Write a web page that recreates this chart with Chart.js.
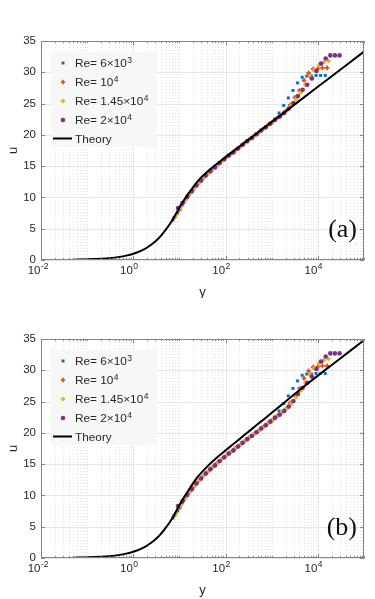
<!DOCTYPE html>
<html>
<head>
<meta charset="utf-8">
<script src="https://cdn.jsdelivr.net/npm/chart.js@4.4.1/dist/chart.umd.min.js"></script>
<style>
  html, body { margin: 0; padding: 0; background: #fff; }
  canvas { display: block; }
</style>
</head>
<body>
<canvas id="chartA" width="375" height="298"></canvas>
<canvas id="chartB" width="375" height="301"></canvas>
<script>
// wall distance y+ and velocity u+
const yBlue = [7.24, 9.12, 11.5, 14.5, 18.2, 22.9, 28.8, 36.3, 45.7, 57.5, 72.4, 91.2, 115, 145, 182, 229, 288, 363, 457, 575, 724, 912, 1148, 1445, 1820, 2291, 2884, 3631, 4571, 5754, 7244, 9120, 11480, 14450];
const uBlue = [6.4, 7.5, 8.8, 9.9, 10.9, 11.8, 12.6, 13.4, 14.1, 14.8, 15.4, 16.0, 16.6, 17.2, 17.8, 18.4, 18.9, 19.5, 20.1, 20.6, 21.2, 21.7, 22.5, 23.5, 24.7, 25.9, 27.1, 28.3, 29.2, 29.4, 29.4, 29.5, 29.5, 29.5];

const yOrange = [7.94, 10, 12.6, 15.8, 20, 25.1, 31.6, 39.8, 50.1, 63.1, 79.4, 100, 126, 158, 200, 251, 316, 398, 501, 631, 794, 1000, 1259, 1585, 1995, 2512, 3162, 3981, 5012, 6310, 7943, 10000, 12590, 15850];
const uOrange = [6.9, 8.0, 9.3, 10.4, 11.3, 12.2, 13.0, 13.7, 14.4, 15.1, 15.7, 16.3, 16.9, 17.5, 18.0, 18.6, 19.2, 19.7, 20.3, 20.9, 21.4, 22.0, 22.6, 23.1, 23.8, 24.8, 26.0, 27.1, 28.7, 29.9, 30.5, 30.6, 30.7, 30.7];

const yYellow = [8.51, 10.7, 13.5, 17.0, 21.4, 26.9, 33.9, 42.7, 53.7, 67.6, 85.1, 107, 135, 170, 214, 269, 339, 427, 537, 676, 851, 1072, 1349, 1698, 2138, 2692, 3388, 4266, 5370, 6761, 8511, 10720, 13490, 16980];
const uYellow = [7.2, 8.4, 9.6, 10.6, 11.6, 12.4, 13.2, 13.9, 14.6, 15.2, 15.9, 16.5, 17.0, 17.6, 18.2, 18.8, 19.3, 19.9, 20.4, 21.0, 21.6, 22.1, 22.7, 23.3, 23.9, 24.7, 25.7, 26.8, 28.0, 29.3, 30.4, 31.2, 31.6, 31.8];

const yPurple = [9.33, 11.7, 14.8, 18.6, 23.4, 29.5, 37.2, 46.8, 58.9, 74.1, 93.3, 117, 148, 186, 234, 295, 372, 468, 589, 741, 933, 1175, 1479, 1862, 2344, 2951, 3715, 4677, 5888, 7413, 9333, 11750, 14790, 18620, 23440, 29510];
const uPurple = [8.3, 9.1, 10.1, 11.0, 11.9, 12.7, 13.5, 14.2, 14.8, 15.5, 16.1, 16.7, 17.2, 17.8, 18.4, 19.0, 19.5, 20.1, 20.7, 21.2, 21.8, 22.4, 22.9, 23.5, 24.2, 25.1, 26.2, 27.2, 28.0, 29.0, 30.2, 31.4, 32.2, 32.7, 32.7, 32.7];

const yTheory = [0.05, 0.1, 0.2, 0.3, 0.5, 0.7, 1, 1.5, 2, 3, 4, 5, 6, 7, 8, 10, 12, 15, 20, 25, 30, 40, 50, 70, 100, 150, 200, 300, 500, 700, 1000, 2000, 5000, 10000, 20000, 50000, 100000];
const uTheoryA = [0.05, 0.1, 0.2, 0.3, 0.5, 0.7, 1.0, 1.5, 2.0, 2.95, 3.9, 4.8, 5.6, 6.35, 7.1, 8.4, 9.35, 10.4, 11.7, 12.6, 13.25, 14.1, 14.7, 15.55, 16.44, 17.43, 18.13, 19.12, 20.37, 21.19, 22.06, 23.75, 25.99, 27.68, 29.37, 31.61, 33.3];
const uTheoryB = [0.05, 0.1, 0.2, 0.3, 0.5, 0.7, 1.0, 1.5, 2.0, 2.95, 3.9, 4.8, 5.6, 6.35, 7.1, 8.45, 9.45, 10.6, 12.0, 13.0, 13.65, 14.6, 15.3, 16.25, 17.2, 18.26, 19.0, 20.06, 21.4, 22.27, 23.2, 25.0, 27.4, 29.15, 30.85, 33.1, 34.8];

const seriesNames = ["Re= 6×10", "Re= 10", "Re= 1.45×10", "Re= 2×10"];
const seriesExps = ["3", "4", "4", "4"];
const uTicks = [0, 5, 10, 15, 20, 25, 30, 35];
const xTickExps = [-2, 0, 2, 4];

const SANS = "'Liberation Sans', Arial, Helvetica, sans-serif";
const AXIS = "#858585";
const TEXT = "#262626";

function pts(xs, ys) {
    return xs.map((v, i) => ({ x: v, y: ys[i] }));
}

function drawMarker(ctx, style, x, y, r, color, bw) {
    ctx.save();
    ctx.fillStyle = color;
    ctx.strokeStyle = color;
    ctx.lineWidth = bw;
    ctx.beginPath();
    if (style === "rect") {
        const s = r * Math.SQRT2;
        ctx.rect(x - s / 2, y - s / 2, s, s);
        ctx.fill();
    } else if (style === "rectRot") {
        ctx.moveTo(x, y - r);
        ctx.lineTo(x + r, y);
        ctx.lineTo(x, y + r);
        ctx.lineTo(x - r, y);
        ctx.closePath();
        ctx.fill();
    } else if (style === "cross") {
        ctx.moveTo(x - r, y);
        ctx.lineTo(x + r, y);
        ctx.moveTo(x, y - r);
        ctx.lineTo(x, y + r);
        ctx.stroke();
    } else {
        ctx.arc(x, y, r, 0, Math.PI * 2);
        ctx.fill();
    }
    ctx.restore();
}

// grid positions on the log axis: majors on even decades, the rest minor
function xGridValues() {
    const out = [];
    for (let k = -2; k <= 4; k++) {
        for (let m = 1; m <= 9; m++) {
            out.push({ v: m * Math.pow(10, k), major: m === 1 && k % 2 === 0 });
        }
    }
    out.push({ v: 1e5, major: false });
    return out;
}

// MATLAB-like axes box, grid, ticks, legend and panel tag
const matlabAxes = {
    id: "matlabAxes",
    beforeDatasetsDraw(chart) {
        const { ctx, chartArea: a, scales: { x, y } } = chart;
        ctx.save();
        ctx.lineWidth = 1;
        xGridValues().forEach((g) => {
            const px = Math.round(x.getPixelForValue(g.v)) + 0.5;
            ctx.beginPath();
            if (g.major) {
                ctx.setLineDash([]);
                ctx.strokeStyle = "#e6e6e6";
            } else {
                ctx.setLineDash([1, 2]);
                ctx.strokeStyle = "#e2e2e2";
            }
            ctx.moveTo(px, a.top);
            ctx.lineTo(px, a.bottom);
            ctx.stroke();
        });
        ctx.setLineDash([]);
        ctx.strokeStyle = "#e6e6e6";
        uTicks.forEach((t) => {
            const py = Math.round(y.getPixelForValue(t)) + 0.5;
            ctx.beginPath();
            ctx.moveTo(a.left, py);
            ctx.lineTo(a.right, py);
            ctx.stroke();
        });
        ctx.restore();
    },
    afterDatasetsDraw(chart, args, opts) {
        const { ctx, chartArea: a, scales: { x, y } } = chart;
        ctx.save();
        ctx.strokeStyle = AXIS;
        ctx.lineWidth = 1;
        ctx.strokeRect(a.left + 0.5, a.top + 0.5, a.right - a.left - 1, a.bottom - a.top - 1);

        // ticks pointing inward
        ctx.beginPath();
        xGridValues().forEach((g) => {
            const px = Math.round(x.getPixelForValue(g.v)) + 0.5;
            const len = g.major ? 4 : 2;
            ctx.moveTo(px, a.bottom);
            ctx.lineTo(px, a.bottom - len);
            ctx.moveTo(px, a.top);
            ctx.lineTo(px, a.top + len);
        });
        uTicks.forEach((t) => {
            const py = Math.round(y.getPixelForValue(t)) + 0.5;
            ctx.moveTo(a.left, py);
            ctx.lineTo(a.left + 4, py);
            ctx.moveTo(a.right, py);
            ctx.lineTo(a.right - 4, py);
        });
        ctx.stroke();

        // tick labels
        ctx.fillStyle = TEXT;
        ctx.font = "11.5px " + SANS;
        ctx.textAlign = "right";
        ctx.textBaseline = "middle";
        uTicks.forEach((t) => {
            ctx.fillText(String(t), a.left - 5, y.getPixelForValue(t));
        });
        ctx.textBaseline = "alphabetic";
        xTickExps.forEach((e) => {
            const px = x.getPixelForValue(Math.pow(10, e));
            ctx.font = "11.5px " + SANS;
            ctx.textAlign = "right";
            ctx.fillText("10", px - 0.5, a.bottom + 14);
            ctx.font = "8.5px " + SANS;
            ctx.textAlign = "left";
            ctx.fillText(String(e), px, a.bottom + 9);
        });

        // axis titles
        ctx.font = "13px " + SANS;
        ctx.textAlign = "center";
        ctx.fillText("y", (a.left + a.right) / 2, a.bottom + 35.5);
        ctx.save();
        ctx.translate(16.5, (a.top + a.bottom) / 2);
        ctx.rotate(-Math.PI / 2);
        ctx.fillText("u", 0, 0);
        ctx.restore();

        // legend
        const lx = a.left + 10, ly = a.top + 11;
        ctx.fillStyle = "#f7f7f7";
        ctx.fillRect(lx, ly, 106, 95);
        const rows = [22, 41, 60, 79, 97.5];
        chart.data.datasets.forEach((ds, i) => {
            const ry = a.top + rows[i];
            if (ds.isTheory) {
                ctx.strokeStyle = "#000";
                ctx.lineWidth = 2;
                ctx.beginPath();
                ctx.moveTo(a.left + 12, ry);
                ctx.lineTo(a.left + 31, ry);
                ctx.stroke();
            } else {
                drawMarker(ctx, ds.pointStyle, a.left + 22, ry, ds.pointRadius, ds.backgroundColor, ds.pointBorderWidth);
            }
            ctx.fillStyle = TEXT;
            ctx.font = "11.8px " + SANS;
            ctx.textAlign = "left";
            ctx.textBaseline = "alphabetic";
            ctx.fillText(ds.label, a.left + 34, ry + 4.3);
            if (ds.exp) {
                const w = ctx.measureText(ds.label).width;
                ctx.font = "8.5px " + SANS;
                ctx.fillText(ds.exp, a.left + 34 + w + 0.5, ry - 0.3);
            }
        });

        // panel tag
        ctx.fillStyle = "#111";
        ctx.font = "26px 'Liberation Serif', 'DejaVu Serif', serif";
        ctx.textAlign = "right";
        ctx.textBaseline = "middle";
        ctx.fillText(opts.tag, a.right - 7, a.bottom - 30);
        ctx.restore();
    },
};

function makeChart(id, uTheory, tag, bottomPad) {
    const ctx = document.getElementById(id).getContext("2d");
    const styles = [
        { style: "rect", r: 2.1, color: "#0072BD", bw: 0, order: 4 },
        { style: "cross", r: 2.3, color: "#D95319", bw: 1.7, order: 3 },
        { style: "rectRot", r: 2.6, color: "#EDB120", bw: 0, order: 2 },
        { style: "circle", r: 2.3, color: "#7E2F8E", bw: 0, order: 1 },
    ];
    const series = [
        pts(yBlue, uBlue),
        pts(yOrange, uOrange),
        pts(yYellow, uYellow),
        pts(yPurple, uPurple),
    ];
    const datasets = series.map((d, i) => ({
        label: seriesNames[i],
        exp: seriesExps[i],
        data: d,
        showLine: false,
        pointStyle: styles[i].style,
        pointRadius: styles[i].r,
        pointBorderWidth: styles[i].bw,
        backgroundColor: styles[i].color,
        borderColor: styles[i].color,
        order: styles[i].order,
    }));
    datasets.push({
        label: "Theory",
        isTheory: true,
        data: pts(yTheory, uTheory),
        borderColor: "#000",
        borderWidth: 2,
        pointRadius: 0,
        cubicInterpolationMode: "monotone",
        order: 0,
    });
    new Chart(ctx, {
        type: "line",
        data: { datasets: datasets },
        options: {
            responsive: false,
            animation: false,
            layout: { padding: { left: 41, right: 11, top: 41, bottom: bottomPad } },
            scales: {
                x: { type: "logarithmic", min: 0.01, max: 1e5, display: false },
                y: { type: "linear", min: 0, max: 35, display: false },
            },
            plugins: {
                legend: { display: false },
                tooltip: { enabled: false },
                matlabAxes: { tag: tag },
            },
        },
        plugins: [matlabAxes],
    });
}

makeChart("chartA", uTheoryA, "(a)", 38);
makeChart("chartB", uTheoryB, "(b)", 41);
</script>
</body>
</html>
